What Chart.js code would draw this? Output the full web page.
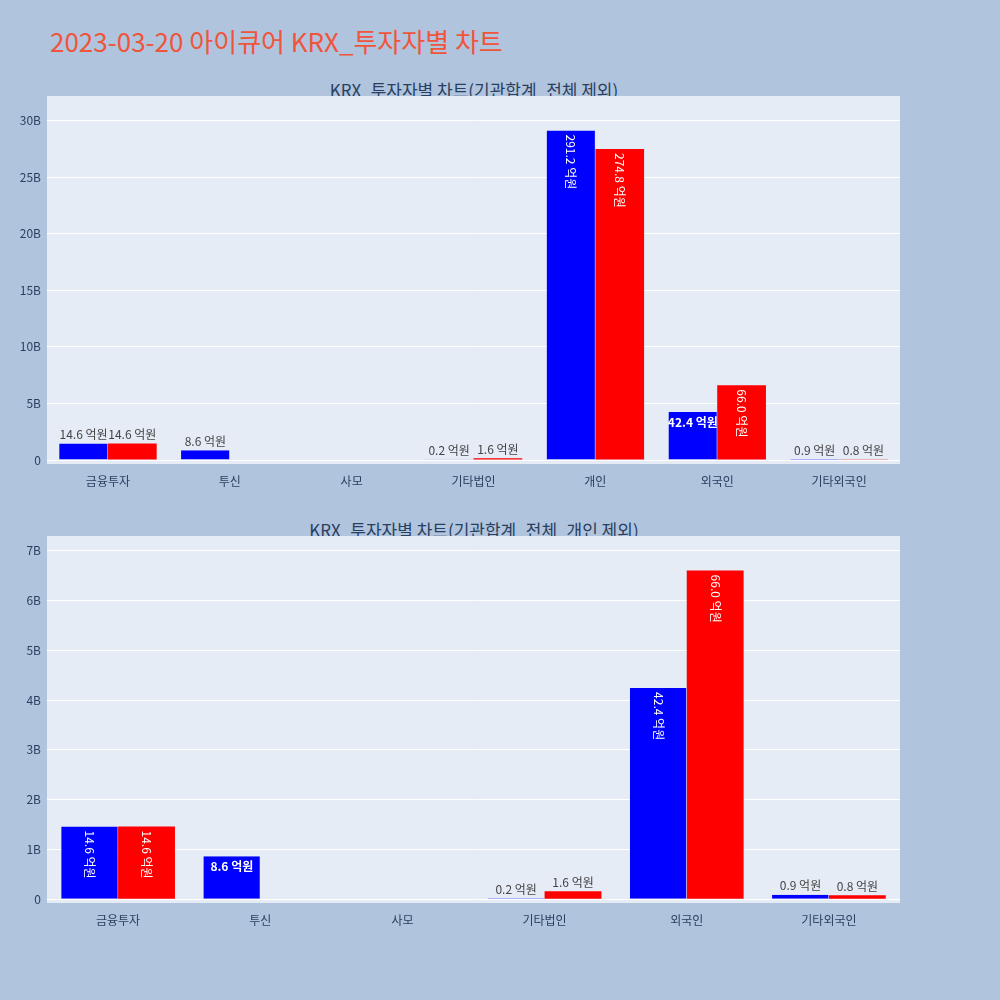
<!DOCTYPE html>
<html><head><meta charset="utf-8">
<script src="https://cdn.jsdelivr.net/npm/chart.js@4"></script>
<style>
body{margin:0;width:1000px;height:1000px;background:#B0C4DE;position:relative;font-family:"Noto Sans CJK KR","Noto Sans",sans-serif;overflow:hidden}
.t{position:absolute;color:#2a3f5f;font-size:17px;text-align:center;width:1000px;left:-26px}
canvas{position:absolute}
</style></head><body>
<div style="position:absolute;left:50px;top:22px;font-size:26px;color:#EF553B">2023-03-20 아이큐어 KRX_투자자별 차트</div>
<div class="t" style="top:77px">KRX_투자자별 차트(기관합계_전체 제외)</div>
<div class="t" style="top:517px">KRX_투자자별 차트(기관합계_전체_개인 제외)</div>
<div style="position:absolute;left:47px;top:96px;width:853px;height:368px;background:#E5ECF6"></div>
<div style="position:absolute;left:47px;top:536px;width:853px;height:367px;background:#E5ECF6"></div>
<div style="position:absolute;left:0;top:96px;width:900px;height:400px"><canvas id="c1"></canvas></div>
<div style="position:absolute;left:0;top:536px;width:900px;height:400px"><canvas id="c2"></canvas></div>
<script>
const cats1=['금융투자','투신','사모','기타법인','개인','외국인','기타외국인'];
const blue1=[1.46e9,0.86e9,0,0.02e9,29.12e9,4.24e9,0.09e9];
const red1=[1.46e9,0,0,0.16e9,27.48e9,6.60e9,0.08e9];
const cats2=['금융투자','투신','사모','기타법인','외국인','기타외국인'];
const blue2=[1.46e9,0.86e9,0,0.02e9,4.24e9,0.09e9];
const red2=[1.46e9,0,0,0.16e9,6.60e9,0.08e9];
const F='"Noto Sans CJK KR","Noto Sans",sans-serif';
const labelPlugin={id:'lbl',afterDatasetsDraw(ch){
 const ctx=ch.ctx;
 ch.data.datasets.forEach((ds,di)=>{
  ch.getDatasetMeta(di).data.forEach((bar,i)=>{
   const v=ds.data[i]; if(!v) return;
   const txt=(v/1e8).toFixed(1)+' 억원';
   const h=bar.base-bar.y, w=bar.width;
   ctx.save(); ctx.font='12px '+F; const tw=ctx.measureText(txt).width;
   if(h>tw+10){ctx.fillStyle='#fff';ctx.translate(bar.x,bar.y+4);ctx.rotate(Math.PI/2);ctx.textAlign='left';ctx.textBaseline='middle';ctx.fillText(txt,0,0);}
   else if(h>22&&w>tw){ctx.fillStyle='#fff';ctx.font='bold 12px '+F;ctx.textAlign='center';ctx.textBaseline='top';ctx.fillText(txt,bar.x,bar.y+4);}
   else{let fs=12;if(tw>w){fs=Math.max(10,12*w/tw);}ctx.font=fs+'px '+F;ctx.fillStyle='#444';ctx.textAlign='center';ctx.textBaseline='bottom';ctx.fillText(txt,bar.x,bar.y-3);}
   ctx.restore();
  });
 });
}};
function mk(id,cats,b,r,min,max,step,ah){
 new Chart(document.getElementById(id),{type:'bar',
  data:{labels:cats,datasets:[{data:b,backgroundColor:'#0000FF',borderColor:'#E5ECF6',borderWidth:{left:0,right:0.5,top:0,bottom:0}},{data:r,backgroundColor:'#FF0000'}]},
  options:{responsive:true,maintainAspectRatio:false,animation:false,
   layout:{padding:0},
   plugins:{legend:{display:false},tooltip:{enabled:false}},
   datasets:{bar:{categoryPercentage:0.8,barPercentage:1}},
   scales:{
    x:{grid:{display:false},border:{display:false},ticks:{color:'#2a3f5f',font:{size:12,family:F},padding:2},afterFit(s){s.height=400-ah}},
    y:{min:min,max:max,afterBuildTicks(s){const t=[];for(let v=0;v<=max;v+=step)t.push({value:v});s.ticks=t;},
     grid:{color:'#fff',lineWidth:1,drawTicks:false},border:{display:false},
     ticks:{color:'#2a3f5f',font:{size:12,family:F},padding:6,callback:v=>v===0?'0':(v/1e9)+'B'},
     afterFit(s){s.width=47}}
   }},plugins:[labelPlugin]});
}
mk('c1',cats1,blue1,red1,-0.35e9,31.0e9,5e9,368);
mk('c2',cats2,blue2,red2,-0.077e9,7.03e9,1e9,367);
</script></body></html>
